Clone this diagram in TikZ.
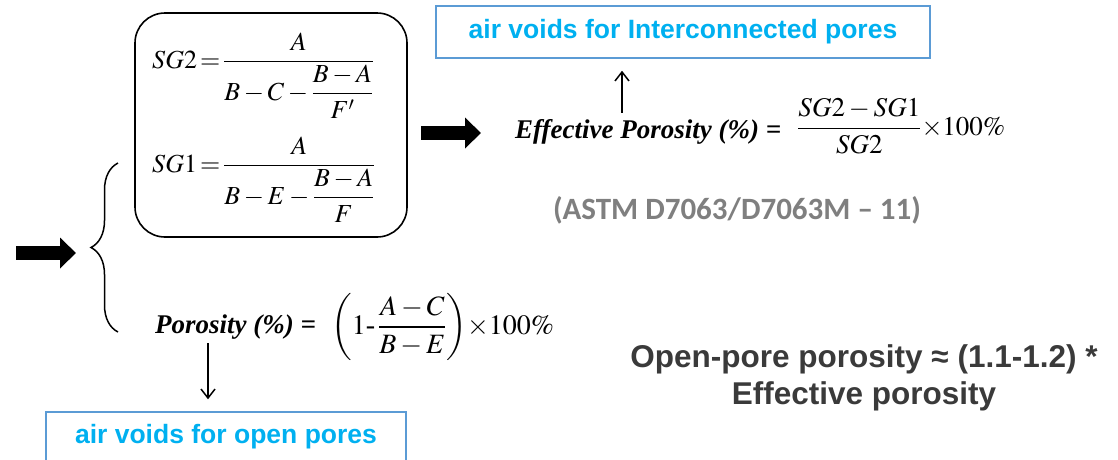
\documentclass[tikz,border=0pt]{standalone}
\usepackage{amsmath}
\usepackage{mathptmx}
\usepackage[no-math]{fontspec}
\setmainfont{Liberation Serif}
\newfontfamily\arialfont{Liberation Sans}
\newfontfamily\calibrifont{Carlito}
\usetikzlibrary{arrows.meta,decorations.pathreplacing}

\definecolor{voidblue}{HTML}{00B0F0}
\definecolor{frameblue}{HTML}{5B9BD5}
\definecolor{notegray}{HTML}{7F7F7F}
\definecolor{darktext}{HTML}{3A3A3A}

% tight relation sign, as set by an equation editor
\newcommand{\teq}{\mathrel{\!=\!}}

\begin{document}
\begin{tikzpicture}[x=1pt,y=-1pt,
  voidbox/.style={draw=frameblue, line width=1.5pt, inner sep=0pt,
    text=voidblue, font=\arialfont\bfseries\fontsize{26.5}{30}\selectfont},
  formbox/.style={draw=black, line width=1.6pt, rounded corners=30pt,
    minimum width=272pt, minimum height=224pt, inner sep=0pt},
  eqn/.style={inner sep=0pt, anchor=base west, font=\fontsize{26}{30}\selectfont},
  eqnbig/.style={inner sep=0pt, anchor=base west, font=\fontsize{27}{32}\selectfont},
  label/.style={inner sep=0pt, anchor=base west,
    font=\bfseries\itshape\fontsize{27}{32}\selectfont},
  bigarrow/.style={line width=14pt, -{Triangle[length=16pt,width=30pt]}},
  thinarrow/.style={line width=1.5pt, -{Straight Barb[length=9pt,width=14pt]}},
  brace/.style={line width=1.5pt, decorate, decoration={brace, amplitude=27pt}}
]
\clip (0,0) rectangle (1118,459);

% formulas for the two specific gravities
\node[formbox] (fbox) at (271,125) {};
\node[eqn] (sg2) at (152,68) {$SG2\teq\dfrac{A}{B-C-\dfrac{B-A}{F'}}$};
\node[eqn] (sg1) at (152,172) {$SG1\teq\dfrac{A}{B-E-\dfrac{B-A}{F}}$};

% input arrow and brace
\coordinate (inA) at (16,253);
\coordinate (inB) at (76,253);
\draw[bigarrow] (inA) -- (inB);
\coordinate (brB) at (118,332);
\coordinate (brT) at (118,163);
\draw[brace] (brB) -- (brT);

% effective porosity
\coordinate (effA) at (421,133);
\coordinate (effB) at (481,133);
\draw[bigarrow] (effA) -- (effB);
\node[label] (effl) at (515,138) {Effective Porosity (\%) =};
\node[eqnbig] (effm) at (797,135) {$\dfrac{SG2-SG1}{SG2}{\times}100\%$};
\node[voidbox, minimum width=494pt, minimum height=52pt] (topbox) at (683,32)
  {air voids for Interconnected pores};
\coordinate (upx) at (622,0);
\draw[thinarrow, shorten <=6pt, shorten >=12pt] (effl.north -| upx) -- (topbox.south -| upx);

\node[inner sep=0pt, text=notegray, font=\calibrifont\bfseries\fontsize{31}{36}\selectfont]
  (astm) at (737,210) {(ASTM D7063/D7063M \textendash{} 11)};

% total porosity
\node[label] (porl) at (155,333) {Porosity (\%) =};
\node[eqnbig, font=\fontsize{28}{33}\selectfont] (porm) at (331,334)
  {$\left(1\mbox{-}\,\dfrac{A-C}{B-E}\right)\!{\times}100\%$};
\node[voidbox, minimum width=360pt, minimum height=50pt] (botbox) at (226,437)
  {air voids for open pores};
\coordinate (dnx) at (208,0);
\draw[thinarrow, shorten <=4pt, shorten >=12pt] (porl.south -| dnx) -- (botbox.north -| dnx);

% relation between the two porosities
\node[inner sep=0pt, align=center, text=darktext,
  font=\arialfont\bfseries\fontsize{31.5}{37}\selectfont]
  (rel) at (864,378) {Open-pore porosity ≈ (1.1-1.2) *\\Effective porosity};
\end{tikzpicture}
\end{document}
